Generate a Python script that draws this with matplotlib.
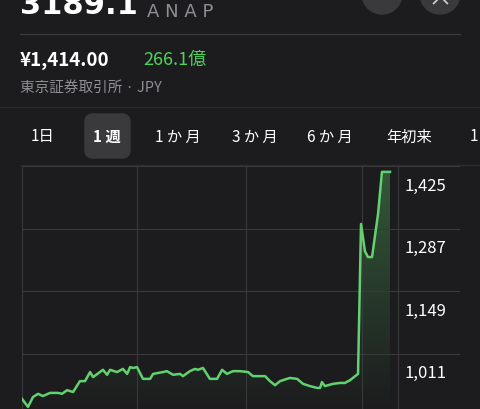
import matplotlib
matplotlib.use("Agg")
import matplotlib.pyplot as plt
import numpy as np
from matplotlib.patches import FancyBboxPatch, Circle, Polygon
from matplotlib.colors import LinearSegmentedColormap

plt.rcParams['font.family'] = ['Noto Sans CJK JP', 'DejaVu Sans']

# trading hours elapsed over the week (5 h per day) and prices
t = [0, 0.26, 0.48, 0.70, 0.91, 1.22, 1.57, 1.74, 1.96, 2.22, 2.52, 2.74, 2.96, 3.09, 3.52, 3.70, 3.83,
     4.13, 4.39, 4.57, 4.70, 4.83, 5.00, 5.26, 5.57, 5.70, 6.13, 6.30, 6.57, 6.87, 7.00, 7.30, 7.52, 7.65,
     7.87, 8.17, 8.48, 8.70, 8.91, 9.17, 9.48, 9.83, 10.04, 10.35, 10.57, 10.78, 11.00, 11.22, 11.52, 11.65,
     11.96, 12.22, 12.52, 12.83, 12.96, 13.04, 13.17, 13.52, 13.83, 14.04, 14.26, 14.61, 14.74, 14.91, 15.04,
     15.22, 15.48, 15.65, 16.00]
v = [911, 893, 915, 922, 917, 924, 924, 922, 930, 926, 950, 950, 970, 959, 975, 964, 975,
     970, 977, 966, 981, 979, 981, 955, 955, 966, 970, 972, 964, 966, 961, 972, 977, 975,
     979, 955, 955, 975, 966, 972, 972, 970, 961, 961, 961, 950, 941, 950, 955, 957,
     955, 944, 939, 935, 935, 948, 939, 944, 946, 946, 952, 966, 1297, 1237, 1224,
     1224, 1319, 1412, 1412]
day_lines = [0, 5, 9.74, 14.78, 16.35]
yticks = [1425, 1287, 1149, 1011]
tabs = ['1日', '1週', '1か月', '3か月', '6か月', '年初来', '1']

W, H = 480, 410
bg = '#1c1c1e'
fig = plt.figure(figsize=(W/100, H/100), dpi=100, facecolor=bg)
green = '#62d26f'

def fx(x): return x / W
def fy(y): return 1 - y / H

ov = fig.add_axes([0, 0, 1, 1], facecolor='none')
ov.set_xlim(0, W); ov.set_ylim(H, 0); ov.axis('off')
ov.text(20, 5, '3189.1', color='white', fontsize=22, fontweight='bold', va='center', ha='left', family=['DejaVu Sans'])
ov.text(147, 12, 'A N A P', color='#8e8e93', fontsize=13, va='center', ha='left', family=['DejaVu Sans'])
ov.add_patch(Circle((382, -5), 20, color='#3a3a3c'))
ov.add_patch(Circle((440, -5), 20, color='#3a3a3c'))
ov.text(440, -1, '×', color='#d0d0d0', fontsize=18, ha='center', va='center')
ov.plot([20, 460], [35, 35], color='#3a3a3c', lw=1)
ov.text(20, 60, '¥1,414.00', color='white', fontsize=13.5, fontweight='bold', va='center', ha='left')
ov.text(143, 60, '266.1億', color='#4cd35c', fontsize=13, va='center', ha='left')
ov.text(20, 88, '東京証券取引所 · JPY', color='#8e8e93', fontsize=10.5, va='center', ha='left')
ov.plot([0, W], [108, 108], color='#2c2c2e', lw=1)
ov.add_patch(FancyBboxPatch((85, 115), 45, 44, boxstyle='round,pad=0,rounding_size=8', color='#3a3a3c'))
tabx = [42, 107, 178, 255, 330, 409, 474]
for x, s in zip(tabx, tabs):
    lab = s if s in ('1日', '1', '年初来') else ' '.join(s)
    ov.text(x, 137, lab, color='white', fontsize=11, ha='center', va='center',
            fontweight='bold' if s == '1週' else 'normal')
ov.plot([20, W], [166, 166], color='#2c2c2e', lw=1)

# chart axes: x px 22..460, y px 167..410
ax = fig.add_axes([fx(22), 0, fx(460) - fx(22), fy(167)], facecolor='none')
ax.set_xlim(0, (460 - 22) / 23)
px = 138 / 62.5
vb = 1425 - (410 - 167) * px
ax.set_ylim(vb, 1425)
for s in ax.spines.values(): s.set_visible(False)
ax.set_xticks([]); ax.set_yticks([])
xe = day_lines[-1]
for d in day_lines:
    ax.plot([d, d], [vb, 1425], color='#3a3a3c', lw=0.8)
for y in yticks:
    ax.plot([0, ax.get_xlim()[1]], [y, y], color='#3a3a3c', lw=0.8)
    ax.text(xe + 6 / 23, y - 19 * px, f'{y:,}', color='white', fontsize=12, va='center', ha='left')
grad = np.linspace(0, 1, 256).reshape(-1, 1)
cmap = LinearSegmentedColormap.from_list('g', [(0.38, 0.82, 0.43, 0.0), (0.38, 0.82, 0.43, 0.35)])
im = ax.imshow(grad, extent=[0, xe, vb, 1425], origin='lower', cmap=cmap, aspect='auto', zorder=1)
poly = Polygon(list(zip(t, v)) + [(t[-1], vb), (t[0], vb)], closed=True, transform=ax.transData, facecolor='none')
ax.add_patch(poly); poly.set_visible(False)
im.set_clip_path(poly)
ax.plot(t, v, color=green, lw=1.8, zorder=3)

fig.savefig('out.png', dpi=100, facecolor=bg)
